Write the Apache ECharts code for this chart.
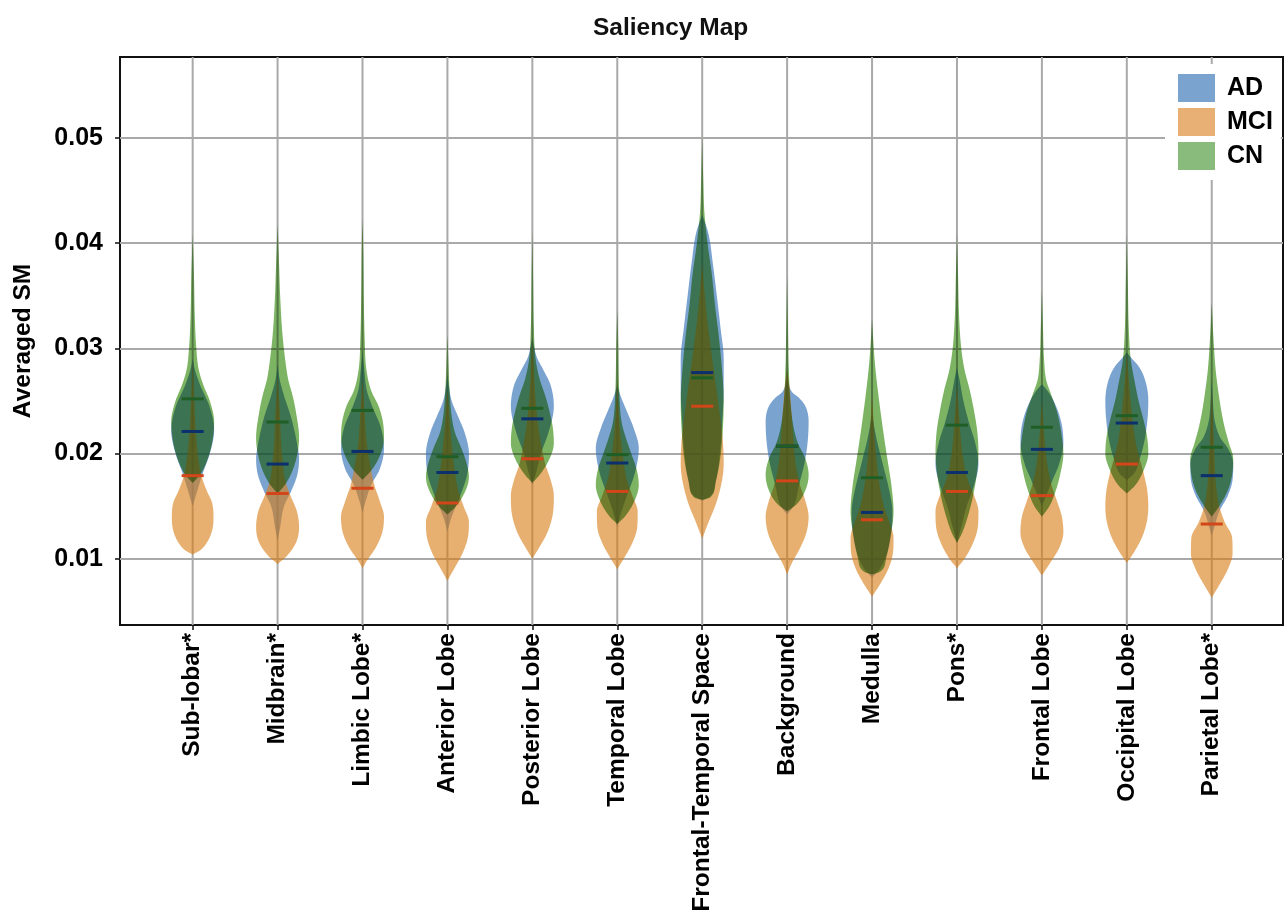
<!DOCTYPE html>
<html>
<head>
<meta charset="utf-8">
<title>Saliency Map</title>
<script src="https://cdn.jsdelivr.net/npm/echarts@6/dist/echarts.min.js"></script>
<style>
  html, body { margin: 0; padding: 0; background: #fff; }
  #chart { width: 1286px; height: 917px; }
  /* the CN layer is multiplied onto the layers beneath it */
  #chart canvas[data-zr-dom-id="zr_1"] { mix-blend-mode: multiply; }
</style>
</head>
<body>
<div id="chart"></div>
<script>
// Brain regions along the x axis
const regions = ['Sub-lobar*', 'Midbrain*', 'Limbic Lobe*', 'Anterior Lobe', 'Posterior Lobe',
  'Temporal Lobe', 'Frontal-Temporal Space', 'Background', 'Medulla', 'Pons*',
  'Frontal Lobe', 'Occipital Lobe', 'Parietal Lobe*'];
const groups = ['AD', 'MCI', 'CN'];
const yTicks = [0.01, 0.02, 0.03, 0.04, 0.05];

// Median averaged saliency per region
const medianAD  = [0.0221, 0.0190, 0.0202, 0.0182, 0.0233, 0.0191, 0.0277, 0.0207, 0.0144, 0.0182, 0.0204, 0.0229, 0.0179];
const medianMCI = [0.0179, 0.0162, 0.0167, 0.0153, 0.0195, 0.0164, 0.0245, 0.0174, 0.0137, 0.0164, 0.0160, 0.0190, 0.0133];
const medianCN  = [0.0252, 0.0230, 0.0241, 0.0197, 0.0243, 0.0199, 0.0272, 0.0207, 0.0177, 0.0227, 0.0225, 0.0236, 0.0206];

// Density outlines: [value, relative density] knots, low to high value
const densityAD = [
  [[0.0150,0],[0.0160,0.15],[0.0180,0.45],[0.0200,0.8],[0.0222,1.0],[0.0245,0.78],[0.0265,0.35],[0.0280,0.1],[0.0290,0]],
  [[0.0117,0],[0.0130,0.12],[0.0150,0.3],[0.0165,0.65],[0.0180,0.92],[0.0195,1.0],[0.0210,0.9],[0.0235,0.62],[0.0255,0.3],[0.0270,0.1],[0.0285,0]],
  [[0.0144,0],[0.0155,0.15],[0.0170,0.4],[0.0185,0.8],[0.0205,1.0],[0.0225,0.85],[0.0245,0.45],[0.0260,0.2],[0.0280,0.08],[0.0298,0]],
  [[0.0126,0],[0.0140,0.2],[0.0160,0.6],[0.0180,0.92],[0.0200,1.0],[0.0220,0.8],[0.0235,0.5],[0.0250,0.2],[0.0265,0.06],[0.0275,0]],
  [[0.0170,0],[0.0180,0.15],[0.0200,0.4],[0.0220,0.75],[0.0245,1.0],[0.0265,0.85],[0.0280,0.5],[0.0292,0.2],[0.0310,0]],
  [[0.0130,0],[0.0145,0.2],[0.0160,0.45],[0.0180,0.8],[0.0205,1.0],[0.0225,0.75],[0.0240,0.45],[0.0255,0.15],[0.0265,0]],
  [[0.0155,0],[0.0160,0.4],[0.0175,0.65],[0.0200,0.82],[0.0230,0.93],[0.0260,1.0],[0.0290,1.0],[0.0320,0.85],[0.0350,0.68],[0.0380,0.5],[0.0410,0.28],[0.0427,0]],
  [[0.0142,0],[0.0150,0.3],[0.0170,0.55],[0.0190,0.8],[0.0210,0.95],[0.0230,1.0],[0.0245,0.85],[0.0253,0.55],[0.0258,0.25],[0.0265,0.08],[0.0280,0]],
  [[0.0082,0],[0.0090,0.35],[0.0105,0.7],[0.0125,0.9],[0.0145,0.95],[0.0165,0.8],[0.0190,0.5],[0.0215,0.2],[0.0237,0]],
  [[0.0115,0],[0.0130,0.2],[0.0150,0.45],[0.0170,0.8],[0.0190,1.0],[0.0210,0.85],[0.0230,0.55],[0.0250,0.3],[0.0270,0.12],[0.0282,0]],
  [[0.0150,0],[0.0160,0.2],[0.0175,0.5],[0.0190,0.8],[0.0210,1.0],[0.0230,0.9],[0.0250,0.55],[0.0260,0.25],[0.0266,0]],
  [[0.0175,0],[0.0180,0.3],[0.0195,0.6],[0.0210,0.8],[0.0230,0.95],[0.0250,1.0],[0.0270,0.85],[0.0283,0.55],[0.0290,0.25],[0.0296,0]],
  [[0.0122,0],[0.0130,0.12],[0.0145,0.35],[0.0160,0.75],[0.0175,0.97],[0.0190,1.0],[0.0205,0.75],[0.0215,0.4],[0.0230,0.15],[0.0250,0.05],[0.0270,0]]
];
const densityMCI = [
  [[0.0104,0],[0.0108,0.35],[0.0115,0.65],[0.0125,0.88],[0.0138,0.97],[0.0152,0.92],[0.0165,0.65],[0.0178,0.42],[0.0190,0.3],[0.0220,0.15],[0.0260,0.06],[0.0288,0]],
  [[0.0095,0],[0.0102,0.4],[0.0115,0.85],[0.0130,1.0],[0.0145,0.9],[0.0160,0.6],[0.0175,0.35],[0.0200,0.2],[0.0240,0.1],[0.0275,0]],
  [[0.0091,0],[0.0098,0.2],[0.0110,0.6],[0.0125,0.92],[0.0140,1.0],[0.0155,0.8],[0.0170,0.55],[0.0190,0.35],[0.0210,0.2],[0.0245,0.08],[0.0270,0]],
  [[0.0079,0],[0.0090,0.3],[0.0105,0.7],[0.0120,0.95],[0.0135,1.0],[0.0150,0.75],[0.0165,0.5],[0.0190,0.3],[0.0220,0.15],[0.0245,0.06],[0.0260,0]],
  [[0.0100,0],[0.0110,0.3],[0.0125,0.7],[0.0145,0.97],[0.0160,1.0],[0.0175,0.85],[0.0190,0.6],[0.0210,0.4],[0.0230,0.25],[0.0260,0.12],[0.0290,0.05],[0.0310,0]],
  [[0.0090,0],[0.0100,0.3],[0.0115,0.7],[0.0130,0.93],[0.0145,0.95],[0.0160,0.7],[0.0175,0.45],[0.0200,0.25],[0.0230,0.1],[0.0270,0]],
  [[0.0119,0],[0.0135,0.3],[0.0150,0.6],[0.0170,0.88],[0.0190,1.0],[0.0215,0.95],[0.0240,0.8],[0.0270,0.6],[0.0300,0.4],[0.0330,0.22],[0.0360,0.08],[0.0380,0]],
  [[0.0085,0],[0.0095,0.2],[0.0110,0.6],[0.0125,0.9],[0.0140,1.0],[0.0155,0.85],[0.0170,0.6],[0.0190,0.4],[0.0210,0.3],[0.0240,0.2],[0.0265,0.1],[0.0280,0]],
  [[0.0064,0],[0.0075,0.35],[0.0090,0.75],[0.0105,0.97],[0.0120,1.0],[0.0135,0.8],[0.0150,0.55],[0.0170,0.35],[0.0200,0.18],[0.0230,0.07],[0.0256,0]],
  [[0.0091,0],[0.0100,0.35],[0.0115,0.75],[0.0130,0.97],[0.0145,1.0],[0.0160,0.8],[0.0175,0.5],[0.0200,0.25],[0.0230,0.12],[0.0266,0]],
  [[0.0084,0],[0.0095,0.35],[0.0110,0.8],[0.0125,1.0],[0.0140,0.93],[0.0155,0.7],[0.0170,0.45],[0.0190,0.25],[0.0220,0.1],[0.0250,0]],
  [[0.0096,0],[0.0105,0.3],[0.0120,0.7],[0.0135,0.93],[0.0150,1.0],[0.0165,0.95],[0.0180,0.8],[0.0195,0.6],[0.0210,0.42],[0.0230,0.28],[0.0260,0.13],[0.0296,0]],
  [[0.0063,0],[0.0075,0.35],[0.0090,0.75],[0.0105,0.97],[0.0120,0.95],[0.0135,0.6],[0.0150,0.35],[0.0170,0.2],[0.0200,0.12],[0.0230,0.06],[0.0260,0]]
];
const densityCN = [
  [[0.0172,0],[0.0180,0.35],[0.0195,0.7],[0.0210,0.9],[0.0230,1.0],[0.0250,0.8],[0.0265,0.5],[0.0280,0.28],[0.0300,0.17],[0.0330,0.1],[0.0370,0.06],[0.0409,0]],
  [[0.0162,0],[0.0172,0.4],[0.0190,0.8],[0.0215,1.0],[0.0240,0.85],[0.0255,0.7],[0.0270,0.5],[0.0290,0.35],[0.0315,0.22],[0.0350,0.12],[0.0380,0.07],[0.0418,0]],
  [[0.0175,0],[0.0185,0.45],[0.0200,0.85],[0.0215,1.0],[0.0230,0.95],[0.0245,0.75],[0.0260,0.4],[0.0280,0.18],[0.0310,0.1],[0.0350,0.06],[0.0390,0.04],[0.0424,0]],
  [[0.0142,0],[0.0150,0.4],[0.0165,0.85],[0.0178,1.0],[0.0190,0.9],[0.0205,0.65],[0.0220,0.35],[0.0235,0.2],[0.0260,0.1],[0.0285,0.05],[0.0313,0]],
  [[0.0172,0],[0.0180,0.35],[0.0195,0.8],[0.0210,1.0],[0.0225,0.95],[0.0240,0.8],[0.0255,0.6],[0.0270,0.35],[0.0290,0.15],[0.0320,0.07],[0.0360,0.04],[0.0412,0]],
  [[0.0133,0],[0.0140,0.35],[0.0155,0.8],[0.0170,1.0],[0.0185,0.9],[0.0200,0.65],[0.0215,0.4],[0.0230,0.2],[0.0260,0.09],[0.0300,0.05],[0.0337,0]],
  [[0.0156,0],[0.0158,0.35],[0.0170,0.6],[0.0190,0.8],[0.0220,0.95],[0.0250,1.0],[0.0280,0.92],[0.0310,0.78],[0.0340,0.6],[0.0370,0.45],[0.0400,0.25],[0.0430,0.1],[0.0460,0.05],[0.0501,0]],
  [[0.0145,0],[0.0152,0.45],[0.0165,0.85],[0.0180,1.0],[0.0195,0.85],[0.0210,0.5],[0.0225,0.3],[0.0250,0.15],[0.0280,0.08],[0.0320,0.04],[0.0369,0]],
  [[0.0085,0],[0.0088,0.4],[0.0100,0.65],[0.0120,0.85],[0.0145,1.0],[0.0170,0.9],[0.0190,0.75],[0.0210,0.6],[0.0230,0.46],[0.0255,0.3],[0.0280,0.16],[0.0300,0.08],[0.0328,0]],
  [[0.0115,0],[0.0125,0.25],[0.0140,0.5],[0.0160,0.75],[0.0180,0.92],[0.0200,1.0],[0.0220,0.95],[0.0240,0.8],[0.0260,0.6],[0.0280,0.35],[0.0300,0.2],[0.0330,0.1],[0.0370,0.05],[0.0409,0]],
  [[0.0140,0],[0.0150,0.35],[0.0165,0.65],[0.0180,0.85],[0.0200,1.0],[0.0220,0.9],[0.0240,0.7],[0.0255,0.45],[0.0270,0.2],[0.0290,0.1],[0.0320,0.05],[0.0356,0]],
  [[0.0162,0],[0.0170,0.4],[0.0185,0.8],[0.0200,1.0],[0.0215,0.95],[0.0230,0.8],[0.0250,0.55],[0.0270,0.35],[0.0290,0.18],[0.0320,0.09],[0.0360,0.05],[0.0409,0]],
  [[0.0140,0],[0.0150,0.35],[0.0165,0.75],[0.0180,0.95],[0.0195,1.0],[0.0210,0.8],[0.0225,0.6],[0.0240,0.45],[0.0260,0.3],[0.0280,0.18],[0.0310,0.08],[0.0343,0]]
];

const FONT = "'Liberation Sans', Arial, Helvetica, sans-serif";
const Y_MIN = 0.0037, Y_MAX = 0.0577;
const HALF_FRAC = 0.253;     // widest half-violin as a share of the band
const MEDIAN_FRAC = 0.13;    // half-length of the median dash

// Smooth outline through the density knots (monotone cubic, keeps widths >= 0)
function outline(knots, steps) {
  const n = knots.length;
  const xs = knots.map(k => k[0]), ys = knots.map(k => k[1]);
  const dx = [], s = [];
  for (let i = 0; i < n - 1; i++) { dx[i] = xs[i + 1] - xs[i]; s[i] = (ys[i + 1] - ys[i]) / dx[i]; }
  const m = new Array(n);
  m[0] = s[0]; m[n - 1] = s[n - 2];
  for (let i = 1; i < n - 1; i++) m[i] = s[i - 1] * s[i] <= 0 ? 0 : (s[i - 1] + s[i]) / 2;
  for (let i = 0; i < n - 1; i++) {
    if (s[i] === 0) { m[i] = 0; m[i + 1] = 0; continue; }
    const a = m[i] / s[i], b = m[i + 1] / s[i], h = a * a + b * b;
    if (h > 9) { const t = 3 / Math.sqrt(h); m[i] = t * a * s[i]; m[i + 1] = t * b * s[i]; }
  }
  const out = [];
  for (let i = 0; i < n - 1; i++) {
    for (let k = 0; k < steps; k++) {
      const t = k / steps, t2 = t * t, t3 = t2 * t;
      const d = (2 * t3 - 3 * t2 + 1) * ys[i] + (t3 - 2 * t2 + t) * dx[i] * m[i] +
                (-2 * t3 + 3 * t2) * ys[i + 1] + (t3 - t2) * dx[i] * m[i + 1];
      out.push([xs[i] + t * dx[i], Math.max(0, d)]);
    }
  }
  out.push([xs[n - 1], ys[n - 1]]);
  return out;
}

function violinRenderer(shapes, fill) {
  return function (params, api) {
    const i = api.value(0);
    const cx = api.coord([i, Y_MIN])[0];
    const half = api.size([1, 0])[0] * HALF_FRAC;
    const pts = outline(shapes[i], 12);
    const right = pts.map(p => [cx + p[1] * half, api.coord([i, p[0]])[1]]);
    const left = pts.slice().reverse().map(p => [cx - p[1] * half, api.coord([i, p[0]])[1]]);
    return { type: 'polygon', shape: { points: right.concat(left) }, style: { fill: fill }, silent: true };
  };
}

function medianRenderer(color) {
  return function (params, api) {
    const p = api.coord([api.value(0), api.value(1)]);
    const h = api.size([1, 0])[0] * MEDIAN_FRAC;
    return { type: 'line', shape: { x1: p[0] - h, y1: p[1], x2: p[0] + h, y2: p[1] },
      style: { stroke: color, lineWidth: 3 }, silent: true };
  };
}

const idx = regions.map((r, i) => [i]);
const violinFill = { AD: 'rgba(50,113,183,0.65)', MCI: 'rgba(217,123,17,0.6)', CN: 'rgb(124,180,100)' };
const violinLayer = { AD: 0, MCI: 0, CN: 1 };
const legendColor = { AD: '#7ba3cf', MCI: '#e8b074', CN: '#88bb7c' };
const medianColor = { AD: '#0c2f6e', MCI: '#d2461a', CN: '#1f5f26' };
const densities = { AD: densityAD, MCI: densityMCI, CN: densityCN };
const medians = { AD: medianAD, MCI: medianMCI, CN: medianCN };

const series = [{
  type: 'custom', name: 'grid', xAxisIndex: 1, yAxisIndex: 1, z: 1, silent: true,
  data: idx,
  renderItem: function (params, api) {
    const x = api.coord([api.value(0), Y_MIN])[0];
    const cs = params.coordSys;
    return { type: 'line', shape: { x1: x, y1: cs.y, x2: x, y2: cs.y + cs.height },
      style: { stroke: '#a9a9a9', lineWidth: 2 }, silent: true };
  }
}];
groups.forEach(g => {
  series.push({
    type: 'custom', name: g, xAxisIndex: 1, yAxisIndex: 1, z: 2, zlevel: violinLayer[g],
    itemStyle: { color: legendColor[g] },
    data: idx, renderItem: violinRenderer(densities[g], violinFill[g])
  });
});
groups.forEach(g => {
  series.push({
    type: 'custom', name: g + ' median', xAxisIndex: 1, yAxisIndex: 1, z: 3, zlevel: 2,
    data: medians[g].map((m, i) => [i, m]), renderItem: medianRenderer(medianColor[g])
  });
});

const chart = echarts.init(document.getElementById('chart'), null, { renderer: 'canvas' });
chart.setOption({
  animation: false,
  backgroundColor: '#fff',
  title: {
    text: 'Saliency Map', left: 593, top: 16, padding: 0,
    textStyle: { fontFamily: FONT, fontSize: 24.5, fontWeight: 'bold', color: '#111' }
  },
  legend: {
    data: groups, orient: 'vertical', left: 1165, top: 64,
    padding: [10, 8, 10, 13], itemWidth: 37, itemHeight: 28, itemGap: 6,
    icon: 'rect', backgroundColor: '#fff', selectedMode: false,
    textStyle: { fontFamily: FONT, fontSize: 25, fontWeight: 'bold', color: '#000', padding: [0, 0, 0, 7] }
  },
  grid: [
    { left: 120, right: 3, top: 57, bottom: 292, outerBoundsMode: 'none', containLabel: false,
      show: true, borderColor: '#111', borderWidth: 2, backgroundColor: 'transparent' },
    { left: 150.2, right: 31.8, top: 57, bottom: 292, outerBoundsMode: 'none', containLabel: false }
  ],
  xAxis: [
    { gridIndex: 0, type: 'value', min: 0, max: 1, show: false },
    {
      gridIndex: 1, type: 'category', data: regions, boundaryGap: true,
      axisLine: { show: false },
      axisTick: { show: true, alignWithLabel: true, length: 5, lineStyle: { color: '#111', width: 1.5 } },
      axisLabel: { interval: 0, rotate: 90, margin: 8, fontFamily: FONT, fontSize: 24.5, fontWeight: 'bold', color: '#000' },
      splitLine: { show: false }
    }
  ],
  yAxis: [
    {
      gridIndex: 0, type: 'value', min: Y_MIN, max: Y_MAX, splitNumber: 5,
      name: 'Averaged SM', nameLocation: 'middle', nameRotate: 90, nameGap: 84,
      nameTextStyle: { fontFamily: FONT, fontSize: 24.5, fontWeight: 'bold', color: '#000' },
      axisLine: { show: false },
      axisTick: { show: true, length: 5, customValues: yTicks, lineStyle: { color: '#111', width: 1.5 } },
      axisLabel: { customValues: yTicks, margin: 17, formatter: v => v.toFixed(2),
        fontFamily: FONT, fontSize: 25, fontWeight: 'bold', color: '#000' },
      splitLine: { show: true, lineStyle: { color: '#a9a9a9', width: 2 } }
    },
    { gridIndex: 1, type: 'value', min: Y_MIN, max: Y_MAX, show: false, splitLine: { show: false } }
  ],
  series: series
});
</script>
</body>
</html>
